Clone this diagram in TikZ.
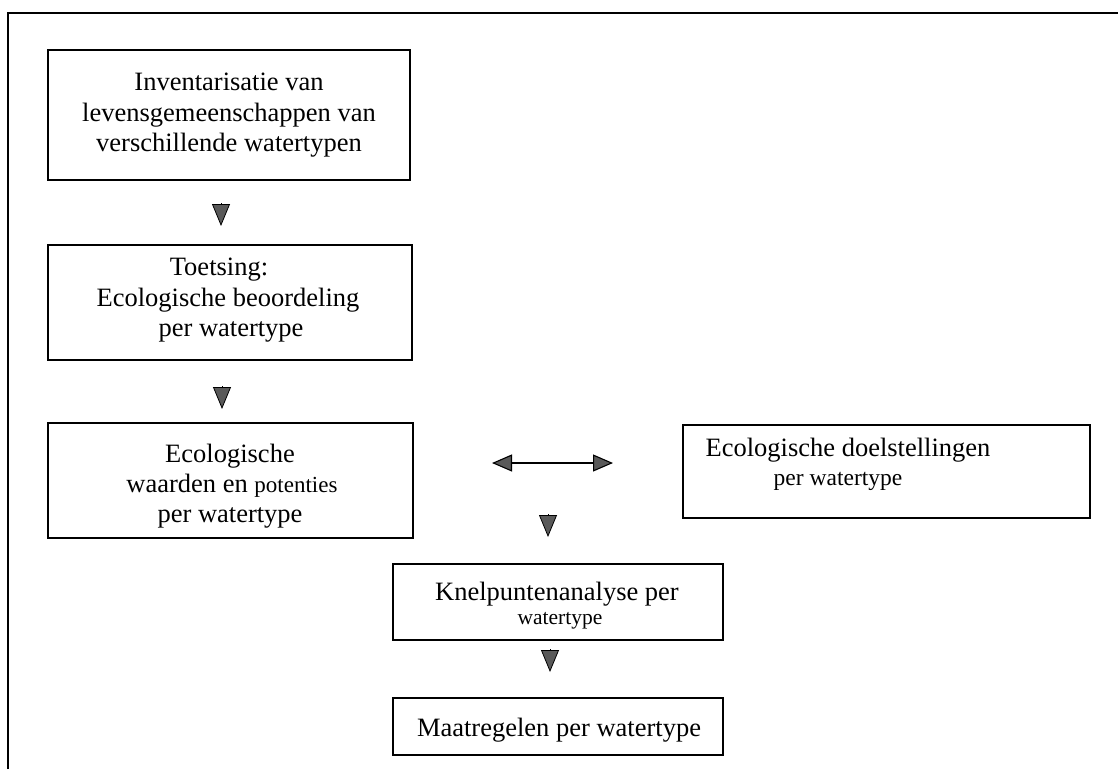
\documentclass[tikz,border=0pt]{standalone}
\usepackage{fontspec}
\setmainfont{Liberation Serif}
\usetikzlibrary{arrows.meta}
\begin{document}
\begin{tikzpicture}[x=1pt,y=-1pt,
  box/.style={draw=black, line width=1.2pt, inner sep=0pt, outer sep=0pt},
  ln/.style={anchor=base, inner sep=0pt, font=\fontsize{26.5}{31}\selectfont},
  lnmid/.style={anchor=base, inner sep=0pt, font=\fontsize{23.5}{28}\selectfont},
  lnsmall/.style={anchor=base, inner sep=0pt, font=\fontsize{21.5}{26}\selectfont},
  head/.style={-{Triangle[length=22pt,width=18pt,fill=black!65]}, draw=black, line width=0.8pt},
  dbl/.style={{Triangle[length=20pt,width=17pt,fill=black!65]}-{Triangle[length=20pt,width=17pt,fill=black!65]}, draw=black, line width=1.1pt},
  frame/.style={draw=black, line width=1.2pt}]
\useasboundingbox (0,0) rectangle (1118,769);

% outer frame
\coordinate (fbl) at (8,769);
\coordinate (ftl) at (8,13);
\coordinate (ftr) at (1118,13);
\draw[frame] (fbl) -- (ftl) -- (ftr);

% boxes
\node[box, minimum width=362pt, minimum height=130pt] (b1) at (229,115) {};
\node[box, minimum width=364pt, minimum height=115pt] (b2) at (230,302.5) {};
\node[box, minimum width=365pt, minimum height=115pt] (b3) at (230.5,480.5) {};
\node[box, minimum width=407pt, minimum height=93pt] (b4) at (886.5,471.5) {};
\node[box, minimum width=330pt, minimum height=76pt] (b5) at (558,602) {};
\node[box, minimum width=330pt, minimum height=57pt] (b6) at (558,726.5) {};

% texts
\node[ln] (t1a) at (229,90) {Inventarisatie van};
\node[ln] (t1b) at (229,121) {levensgemeenschappen van};
\node[ln] (t1c) at (229,151) {verschillende watertypen};

\node[ln] (t2a) at (219,275) {Toetsing:};
\node[ln] (t2b) at (228,306) {Ecologische beoordeling};
\node[ln] (t2c) at (231,336) {per watertype};

\node[ln] (t3a) at (230,462) {Ecologische};
\node[ln] (t3b) at (232,492) {waarden en {\fontsize{23}{31}\selectfont potenties}};
\node[ln] (t3c) at (230,522) {per watertype};

\node[ln] (t4a) at (848,456) {Ecologische doelstellingen};
\node[lnmid] (t4b) at (838,485) {per watertype};

\node[ln] (t5a) at (557,600) {Knelpuntenanalyse per};
\node[lnsmall] (t5b) at (560,624) {watertype};

\node[ln] (t6a) at (559,736) {Maatregelen per watertype};

% arrow heads
\coordinate (a1s) at (221,203);
\coordinate (a1e) at (221,226);
\draw[head] (a1s) -- (a1e);

\coordinate (a2s) at (222,386);
\coordinate (a2e) at (222,409);
\draw[head] (a2s) -- (a2e);

\coordinate (a3s) at (548,514);
\coordinate (a3e) at (548,537);
\draw[head] (a3s) -- (a3e);

\coordinate (a4s) at (550,649);
\coordinate (a4e) at (550,672);
\draw[head] (a4s) -- (a4e);

\coordinate (dl) at (492,463);
\coordinate (dr) at (613,463);
\draw[dbl] (dl) -- (dr);
\end{tikzpicture}
\end{document}
